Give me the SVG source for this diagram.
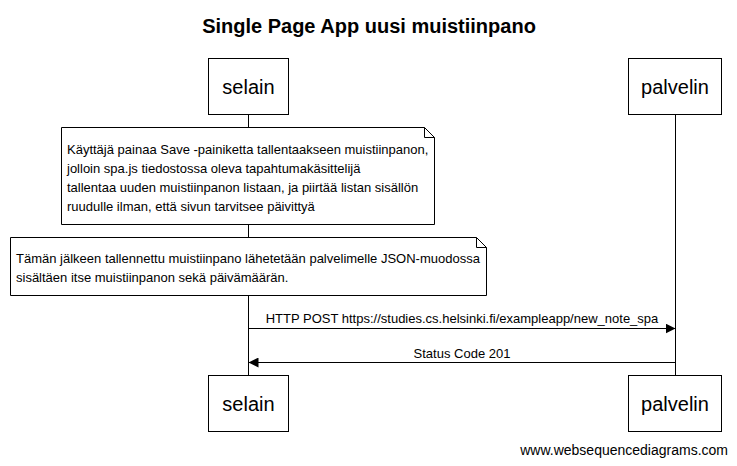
<svg xmlns="http://www.w3.org/2000/svg" width="737" height="466" viewBox="0 0 737 466">
<defs>
<style>
text{font-family:"Liberation Sans",Arial,sans-serif;fill:#000}
.title{font-size:20px;font-weight:bold;text-anchor:middle}
.actor rect{fill:#fff;stroke:#000;stroke-width:1}
.actor text{font-size:20px;text-anchor:middle}
.note path{fill:#fff;stroke:#000;stroke-width:1}
.note text{font-size:13px}
.life{stroke:#000;stroke-width:1}
.msg line{stroke:#000;stroke-width:1}
.msg text{font-size:13px;text-anchor:middle}
.foot{font-size:14px;text-anchor:end}
</style>
<marker id="ah" viewBox="0 0 10 10" refX="10" refY="5" markerWidth="10" markerHeight="10" markerUnits="userSpaceOnUse" orient="auto">
<path d="M0,0 L10,5 L0,10 Z" fill="#000"/>
</marker>
</defs>
<rect width="737" height="466" fill="#fff"/>
<text class="title" x="369" y="33">Single Page App uusi muistiinpano</text>
<g id="lifelines">
<line class="life" x1="248.5" y1="114" x2="248.5" y2="375"/>
<line class="life" x1="675.5" y1="114" x2="675.5" y2="375"/>
</g>
<g id="selain" class="actor">
<rect x="208.5" y="58.5" width="80" height="56"/>
<text x="248.5" y="94">selain</text>
</g>
<g id="palvelin" class="actor">
<rect x="628.5" y="58.5" width="93" height="56"/>
<text x="675" y="94">palvelin</text>
</g>
<g id="note1" class="note">
<path d="M61.5,127.5 H424.5 L434.5,137.5 V224.5 H61.5 Z M424.5,127.5 V137.5 H434.5"/>
<text x="67" y="154">Käyttäjä painaa Save -painiketta tallentaakseen muistiinpanon,</text>
<text x="67" y="173">jolloin spa.js tiedostossa oleva tapahtumakäsittelijä</text>
<text x="67" y="192">tallentaa uuden muistiinpanon listaan, ja piirtää listan sisällön</text>
<text x="67" y="211">ruudulle ilman, että sivun tarvitsee päivittyä</text>
</g>
<g id="note2" class="note">
<path d="M10.5,237.5 H476.5 L486.5,247.5 V295.5 H10.5 Z M476.5,237.5 V247.5 H486.5"/>
<text x="16" y="263">Tämän jälkeen tallennettu muistiinpano lähetetään palvelimelle JSON-muodossa</text>
<text x="16" y="282">sisältäen itse muistiinpanon sekä päivämäärän.</text>
</g>
<g id="connectors" class="msg">
<line x1="248.5" y1="328.5" x2="675.5" y2="328.5" marker-end="url(#ah)"/>
<text x="462" y="323">HTTP POST https://studies.cs.helsinki.fi/exampleapp/new_note_spa</text>
<line x1="675.5" y1="362.5" x2="248.5" y2="362.5" marker-end="url(#ah)"/>
<text x="462" y="358">Status Code 201</text>
</g>
<g id="selain-bottom" class="actor">
<rect x="208.5" y="375.5" width="80" height="56"/>
<text x="248.5" y="411">selain</text>
</g>
<g id="palvelin-bottom" class="actor">
<rect x="628.5" y="375.5" width="93" height="56"/>
<text x="675" y="411">palvelin</text>
</g>
<text class="foot" x="728" y="455">www.websequencediagrams.com</text>
</svg>
